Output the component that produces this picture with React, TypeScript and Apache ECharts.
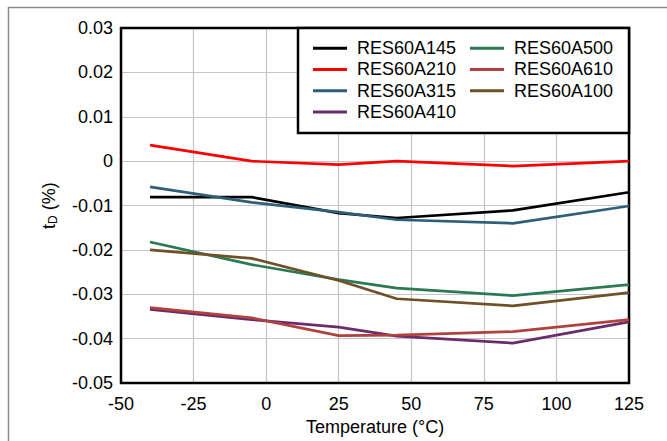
import React, { useEffect, useRef } from "react";
import * as echarts from "echarts";

const temps = [-40, -5, 25, 45, 85, 125];
const res145 = [-0.0081, -0.0081, -0.0117, -0.0128, -0.0111, -0.007];
const res210 = [0.0036, 0.0, -0.0008, 0.0, -0.0011, 0.0];
const res315 = [-0.0058, -0.0093, -0.0115, -0.0132, -0.014, -0.0101];
const res410 = [-0.0334, -0.0357, -0.0374, -0.0394, -0.041, -0.0362];
const res500 = [-0.0182, -0.0233, -0.0267, -0.0286, -0.0303, -0.0278];
const res610 = [-0.033, -0.0353, -0.0393, -0.0392, -0.0384, -0.0357];
const res100 = [-0.02, -0.0219, -0.0269, -0.031, -0.0326, -0.0296];

const seriesNames = ["RES60A145", "RES60A210", "RES60A315", "RES60A410", "RES60A500", "RES60A610", "RES60A100"];
const seriesValues = [res145, res210, res315, res410, res500, res610, res100];
const seriesColors = ["#000000", "#ff0000", "#2f5f78", "#6b2c6b", "#2b7a52", "#b0413e", "#6f5128"];
const legendCol1 = ["RES60A145", "RES60A210", "RES60A315", "RES60A410"];
const legendCol2 = ["RES60A500", "RES60A610", "RES60A100"];

const FONT = "Liberation Sans, Arial, sans-serif";

export default function App() {
  const ref = useRef<HTMLDivElement>(null);
  useEffect(() => {
    if (!ref.current) return;
    const chart = echarts.init(ref.current, undefined, { renderer: "svg" });
    const legendBase = {
      orient: "vertical",
      top: 37.5,
      padding: 0,
      icon: "rect",
      itemWidth: 34,
      itemHeight: 3,
      itemGap: 0,
      textStyle: {
        fontFamily: FONT,
        fontSize: 18,
        color: "#000",
        lineHeight: 21.3,
        padding: [0, 0, 0, 5],
      },
      z: 20,
    };
    chart.setOption({
      animation: false,
      backgroundColor: "#ffffff",
      textStyle: { fontFamily: FONT },
      grid: {
        left: 121,
        right: 38,
        top: 28,
        bottom: 57,
        show: true,
        borderColor: "#000",
        borderWidth: 2.5,
        backgroundColor: "transparent",
        z: 3,
      },
      graphic: [
        {
          type: "rect",
          shape: { x: 8.5, y: 7.5, width: 700, height: 500 },
          style: { fill: "none", stroke: "#8a8a8a", lineWidth: 1.5 },
          z: 1,
          silent: true,
        },
        {
          type: "rect",
          shape: { x: 298, y: 28, width: 331, height: 105 },
          style: { fill: "#ffffff", stroke: "#000", lineWidth: 2.5 },
          z: 10,
          silent: true,
        },
      ],
      legend: [
        { ...legendBase, left: 313, data: legendCol1 },
        { ...legendBase, left: 470, data: legendCol2 },
      ],
      xAxis: {
        type: "value",
        min: -50,
        max: 125,
        interval: 25,
        name: "Temperature (\u00B0C)",
        nameLocation: "middle",
        nameGap: 30,
        nameTextStyle: { fontFamily: FONT, fontSize: 18, color: "#000" },
        axisLine: { show: false },
        axisTick: { show: false },
        axisLabel: { fontFamily: FONT, fontSize: 18, color: "#000", margin: 12 },
        splitLine: { show: true, lineStyle: { color: "#c4c4c4", width: 1.2 } },
      },
      yAxis: {
        type: "value",
        min: -0.05,
        max: 0.03,
        interval: 0.01,
        name: "{t|t}{s|D}{t| (%)}",
        nameLocation: "middle",
        nameGap: 62,
        nameTextStyle: {
          fontFamily: FONT,
          color: "#000",
          rich: {
            t: { fontFamily: FONT, fontSize: 18, color: "#000" },
            s: { fontFamily: FONT, fontSize: 12, color: "#000", verticalAlign: "bottom", padding: [8, 0, 0, 0] },
          },
        },
        axisLine: { show: false },
        axisTick: { show: false },
        axisLabel: {
          fontFamily: FONT,
          fontSize: 18,
          color: "#000",
          margin: 8,
          formatter: (v: number) => String(Number(v.toFixed(2))),
        },
        splitLine: { show: true, lineStyle: { color: "#c4c4c4", width: 1.2 } },
      },
      series: seriesNames.map((name, i) => ({
        name,
        type: "line",
        data: temps.map((t, j) => [t, seriesValues[i][j]]),
        symbol: "none",
        showSymbol: false,
        color: seriesColors[i],
        lineStyle: { color: seriesColors[i], width: 2.7 },
        z: 5,
      })),
    });
    return () => chart.dispose();
  }, []);
  return (
    <div
      ref={ref}
      style={{ position: "absolute", left: 0, top: 0, width: 667, height: 441, background: "#fff" }}
    />
  );
}
